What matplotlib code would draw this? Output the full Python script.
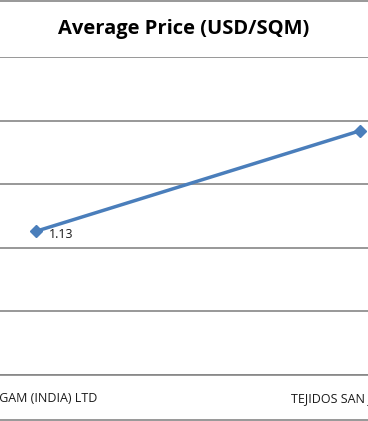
import matplotlib
matplotlib.use("Agg")
import matplotlib.pyplot as plt
from matplotlib.lines import Line2D

categories = ["SANGAM (INDIA) LTD", "TEJIDOS SAN JORGE S.A."]
values = [1.13, 1.92]
label_values = ["1.13", ""]
y_ticks = [0, 0.5, 1.0, 1.5, 2.0, 2.5]
title = "Average Price (USD/SQM)"

W, H = 368, 421
fig = plt.figure(figsize=(W / 100, H / 100), dpi=100)
fig.patch.set_facecolor("white")

# axes wider than the figure: the reference is a crop of a larger chart
x0, x1 = 36, 360
bin_w = x1 - x0
left_px = x0 - bin_w / 2
width_px = 2 * bin_w
bottom_px = H - 375
top_px = H - 57
ax = fig.add_axes([left_px / W, bottom_px / H, width_px / W, (top_px - bottom_px) / H])
ax.set_xlim(-0.5, 1.5)
ax.set_ylim(0, 2.5)
ax.set_yticks(y_ticks)
ax.yaxis.grid(True, color="#868686", linewidth=1.2)
ax.set_axisbelow(True)
for s in ax.spines.values():
    s.set_visible(False)
ax.spines["bottom"].set_visible(True)
ax.spines["bottom"].set_color("#868686")
ax.spines["bottom"].set_linewidth(1.2)
ax.tick_params(axis="y", left=False, labelleft=False)
ax.tick_params(axis="x", bottom=False, labelsize=9, labelcolor="#1a1a1a", pad=9)
xs = list(range(len(categories)))
ax.set_xticks(xs)
ax.set_xticklabels(categories, fontfamily="Open Sans")

ax.plot(xs, values, color="#4a7ebb", linewidth=2.5, marker="D", markersize=6.5,
        markeredgecolor="#4a7ebb", markerfacecolor="#4a7ebb", clip_on=False)
for x, v, t in zip(xs, values, label_values):
    if t:
        ax.annotate(t, (x, v), xytext=(9, -2), textcoords="offset points",
                    ha="left", va="center", fontsize=9, color="#1a1a1a",
                    fontfamily="Open Sans")

fig.text(0.5, 1 - 29 / H, title, ha="center", va="center", fontsize=14.5,
         fontweight="bold", fontfamily="Open Sans", color="black")

# chart border lines (top and bottom)
for yp in (1, 419.5):
    fig.add_artist(Line2D([0, 1], [1 - yp / H, 1 - yp / H], transform=fig.transFigure,
                          color="#868686", linewidth=1.2))

fig.savefig("out.png", dpi=100)
